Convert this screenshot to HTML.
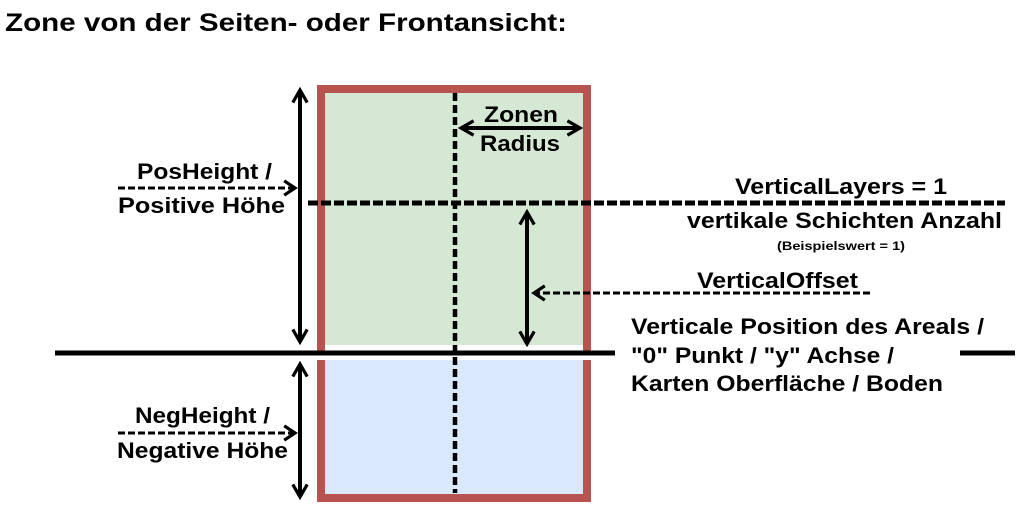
<!DOCTYPE html>
<html><head><meta charset="utf-8"><style>body{margin:0;background:#fff}svg{display:block}text{font-family:"Liberation Sans",Arial,sans-serif;font-weight:bold;fill:#000}</style></head>
<body>
<svg width="1024" height="512" viewBox="0 0 1024 512" xmlns="http://www.w3.org/2000/svg">
<defs>
<marker id="a" viewBox="0 0 10 10" refX="8" refY="5" markerWidth="4.5" markerHeight="4.5" orient="auto-start-reverse"><path d="M1,1 L8,5 L1,9" fill="none" stroke="#000" stroke-width="1.8"/></marker>
<marker id="s" viewBox="0 0 10 10" refX="8" refY="5" markerWidth="6" markerHeight="6" orient="auto-start-reverse"><path d="M2,1 L8,5 L2,9" fill="none" stroke="#000" stroke-width="1.8"/></marker>
</defs>
<text x="5" y="31" font-size="25" textLength="562" lengthAdjust="spacingAndGlyphs">Zone von der Seiten- oder Frontansicht:</text>
<rect x="321" y="89" width="266" height="260" fill="#d5e8d4" stroke="#b85450" stroke-width="8"/>
<rect x="325" y="345" width="258" height="6" fill="#fff"/>
<rect x="317" y="345" width="8" height="6" fill="#b85450"/>
<rect x="583" y="345" width="8" height="6" fill="#b85450"/>
<rect x="321" y="356" width="266" height="142" fill="#dae8fc" stroke="#b85450" stroke-width="8"/>
<rect x="317" y="352" width="274" height="8" fill="#fff"/>
<rect x="325" y="360" width="258" height="4" fill="#dae8fc"/>
<rect x="317" y="360" width="8" height="4" fill="#b85450"/>
<rect x="583" y="360" width="8" height="4" fill="#b85450"/>
<line x1="55" y1="353" x2="615" y2="353" stroke="#000" stroke-width="5"/>
<line x1="960" y1="353" x2="1015" y2="353" stroke="#000" stroke-width="5"/>
<line x1="455" y1="93" x2="455" y2="493" stroke="#000" stroke-width="4.5" stroke-dasharray="8,4"/>
<line x1="308" y1="203" x2="1005" y2="203" stroke="#000" stroke-width="5" stroke-dasharray="10,3"/>
<line x1="300" y1="90" x2="300" y2="342" stroke="#000" stroke-width="4" marker-start="url(#a)" marker-end="url(#a)"/>
<line x1="300" y1="364" x2="300" y2="497" stroke="#000" stroke-width="4" marker-start="url(#a)" marker-end="url(#a)"/>
<line x1="118" y1="188" x2="295" y2="188" stroke="#000" stroke-width="3" stroke-dasharray="7,3" marker-end="url(#s)"/>
<line x1="118" y1="433" x2="295" y2="433" stroke="#000" stroke-width="3" stroke-dasharray="7,3" marker-end="url(#s)"/>
<line x1="527" y1="212" x2="527" y2="344" stroke="#000" stroke-width="4" marker-start="url(#a)" marker-end="url(#a)"/>
<line x1="870" y1="293" x2="534" y2="293" stroke="#000" stroke-width="3" stroke-dasharray="7,3" marker-end="url(#s)"/>
<line x1="461" y1="128" x2="580" y2="128" stroke="#000" stroke-width="4" marker-start="url(#a)" marker-end="url(#a)"/>
<text x="484" y="122" font-size="22" textLength="74" lengthAdjust="spacingAndGlyphs">Zonen</text>
<text x="480" y="151" font-size="22" textLength="80" lengthAdjust="spacingAndGlyphs">Radius</text>
<text x="137" y="179" font-size="22" textLength="135" lengthAdjust="spacingAndGlyphs">PosHeight /</text>
<text x="118" y="213" font-size="22" textLength="167" lengthAdjust="spacingAndGlyphs">Positive Höhe</text>
<text x="135" y="423" font-size="22" textLength="135" lengthAdjust="spacingAndGlyphs">NegHeight /</text>
<text x="117" y="458" font-size="22" textLength="171" lengthAdjust="spacingAndGlyphs">Negative Höhe</text>
<text x="735" y="194" font-size="22" textLength="212" lengthAdjust="spacingAndGlyphs">VerticalLayers = 1</text>
<text x="687" y="228" font-size="22" textLength="315" lengthAdjust="spacingAndGlyphs">vertikale Schichten Anzahl</text>
<text x="777" y="250" font-size="12" textLength="128" lengthAdjust="spacingAndGlyphs" font-weight="normal">(Beispielswert = 1)</text>
<text x="697" y="288" font-size="22" textLength="161" lengthAdjust="spacingAndGlyphs">VerticalOffset</text>
<text x="631" y="334" font-size="22" textLength="353" lengthAdjust="spacingAndGlyphs">Verticale Position des Areals /</text>
<text x="631" y="363" font-size="22" textLength="263" lengthAdjust="spacingAndGlyphs">"0" Punkt / "y" Achse /</text>
<text x="631" y="391" font-size="22" textLength="312" lengthAdjust="spacingAndGlyphs">Karten Oberfläche / Boden</text>
</svg>
</body></html>
